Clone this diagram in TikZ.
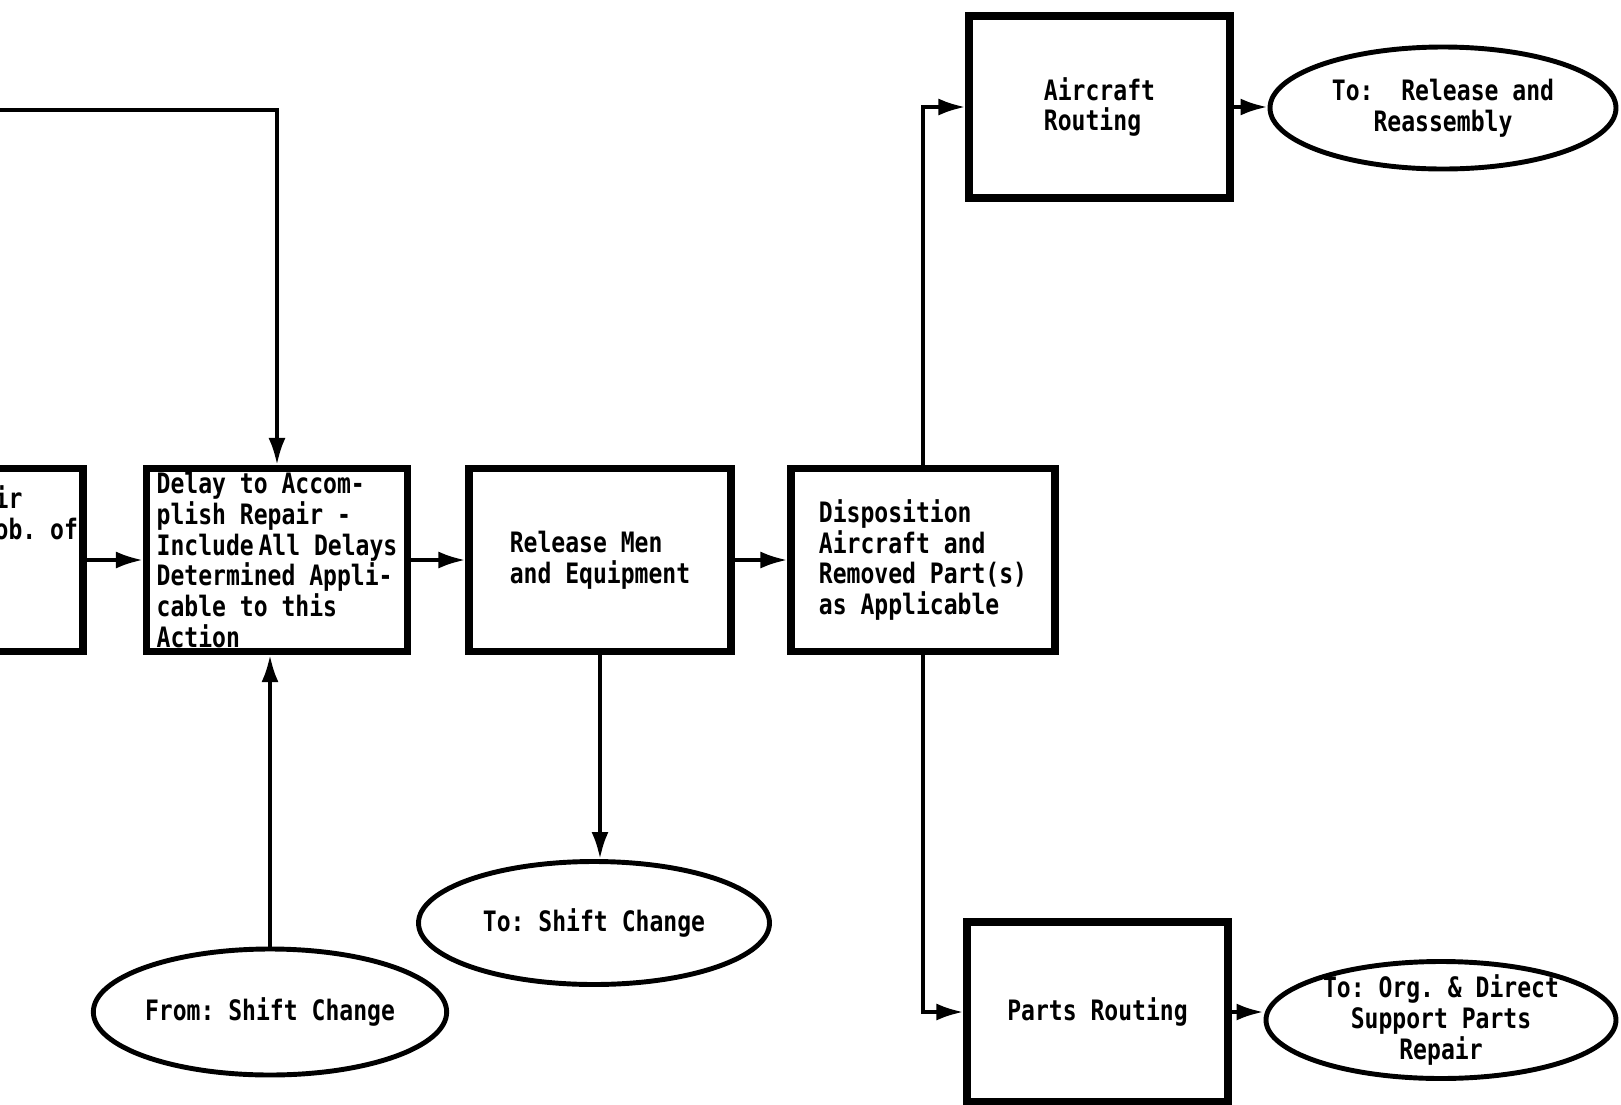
\documentclass[tikz,border=0pt]{standalone}
\usepackage{fontspec}
\setmonofont{DejaVu Sans Mono}[FakeStretch=0.82]
\usetikzlibrary{arrows.meta,shapes.geometric}
\newcommand{\chartfont}{\fontsize{8}{8.8}\selectfont\ttfamily\bfseries}

\begin{document}
\begin{tikzpicture}[
  stepbox/.style={draw, line width=2pt, rectangle, minimum width=2.62cm,
    minimum height=1.83cm, align=left, font=\chartfont},
  endpt/.style={draw, line width=1.4pt, ellipse, inner sep=0pt,
    minimum width=3.5cm, minimum height=1.22cm, align=center, font=\chartfont},
  flow/.style={line width=1.1pt, -{Latex[length=0.27cm,width=0.17cm]}}
]
  \useasboundingbox (0,0) rectangle (16.21,-11.05);
  \clip (0,0) rectangle (16.21,-11.05);

  % main row of steps
  \node[stepbox, minimum width=2.66cm] (prev) at (-0.50,-5.60) {};
  \node[anchor=west, align=left, font=\chartfont, inner sep=0pt] (prevtext)
    at (-0.06,-5.13) {ir\\ob. of};
  \node[stepbox, minimum width=2.61cm, inner sep=0pt] (delay) at (2.77,-5.60)
    {Delay to Accom-\\plish Repair -\\Include\,All Delays\\Determined Appli-\\cable to this\\Action};
  \node[stepbox] (release) at (6.00,-5.60) {Release Men\\and Equipment};
  \node[stepbox, minimum width=2.64cm] (dispo) at (9.23,-5.60)
    {Disposition\\Aircraft and\\Removed Part(s)\\as Applicable};

  % routing boxes
  \node[stepbox, minimum width=2.61cm, minimum height=1.82cm] (aircraft)
    at (10.995,-1.07) {Aircraft\\Routing};
  \node[stepbox, minimum width=2.61cm, minimum height=1.80cm] (parts)
    at (10.975,-10.12) {Parts Routing};

  % off-page ends
  \node[endpt, minimum width=3.46cm] (relout) at (14.43,-1.08)
    {To:\ \ Release and\\Reassembly};
  \node[endpt, minimum height=1.17cm, inner ysep=-0.06cm] (partsout)
    at (14.41,-10.20) {To: Org. \& Direct\\Support Parts\\Repair};
  \node[endpt, minimum width=3.51cm, minimum height=1.23cm] (shiftout)
    at (5.94,-9.23) {To: Shift Change};
  \node[endpt, minimum height=1.26cm] (shiftin) at (2.70,-10.12)
    {From: Shift Change};

  % connectors
  \coordinate (loopin) at (0,-1.10);
  \draw[flow] (loopin) -| (delay.north);
  \draw[flow] (prev.east) -- (delay.west);
  \draw[flow] (delay.east) -- (release.west);
  \draw[flow] (release.east) -- (dispo.west);
  \draw[flow] (dispo.north) |- (aircraft.west);
  \draw[flow] (dispo.south) |- (parts.west);
  \draw[flow] (aircraft.east) -- (aircraft.east -| relout.west);
  \draw[flow] (parts.east) -- (parts.east -| partsout.west);
  \draw[flow] (release.south) -- (release.south |- shiftout.north);
  \draw[flow] (shiftin.north) -- (shiftin.north |- delay.south);
\end{tikzpicture}
\end{document}
